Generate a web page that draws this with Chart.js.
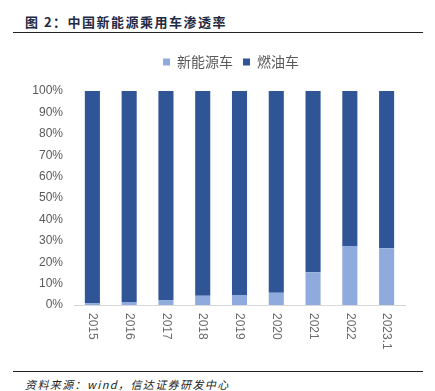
<!DOCTYPE html>
<html>
<head>
  <meta charset="UTF-8">
  <title>中国新能源乘用车渗透率</title>
  <script src="https://cdn.jsdelivr.net/npm/chart.js"></script>
  <style>
    body {
      margin: 0;
      width: 435px;
      height: 391px;
      position: relative;
      background: #fff;
      font-family: "Noto Sans CJK SC", sans-serif;
      overflow: hidden;
    }
    #title {
      position: absolute;
      left: 25px;
      top: 12px;
      font-size: 13px;
      font-weight: bold;
      letter-spacing: 1.5px;
      color: #1f2a44;
    }
    .rule {
      position: absolute;
      left: 13px;
      width: 410px;
      height: 1px;
      background: #222;
    }
    #chartBox {
      position: absolute;
      left: 20px;
      top: 40px;
      width: 415px;
      height: 330px;
    }
    #source {
      position: absolute;
      left: 25px;
      top: 376px;
      font-size: 11px;
      font-style: italic;
      color: #222;
      letter-spacing: 1.4px;
    }
  </style>
</head>
<body>
  <div id="title">图 2：中国新能源乘用车渗透率</div>
  <div class="rule" style="top:32px"></div>

  <div id="chartBox">
    <canvas id="penChart"></canvas>
  </div>

  <div class="rule" style="top:371px"></div>
  <div id="source">资料来源：wind，信达证券研发中心</div>

  <script>
    // Data (share of passenger car sales, %)
    const years = ["2015", "2016", "2017", "2018", "2019", "2020", "2021", "2022", "2023.1"];
    const nevShare = [0.9, 1.4, 2.3, 4.3, 4.7, 5.7, 15.3, 27.6, 26.5];
    const fuelShare = nevShare.map(v => +(100 - v).toFixed(1));
    const yTicks = [0, 10, 20, 30, 40, 50, 60, 70, 80, 90, 100];

    const tickColor = "#595959";

    // x labels are drawn rotated clockwise (read top to bottom)
    const xLabelPlugin = {
      id: "xLabels",
      afterDraw(chart) {
        const ctx = chart.ctx;
        const xs = chart.scales.x;
        ctx.save();
        ctx.fillStyle = "#6b6b6b";
        ctx.font = "12px 'Liberation Sans Narrow', 'Liberation Sans', sans-serif";
        ctx.textAlign = "left";
        ctx.textBaseline = "middle";
        years.forEach((label, i) => {
          const x = xs.getPixelForValue(i);
          ctx.save();
          ctx.translate(x, xs.top + 8);
          ctx.rotate(Math.PI / 2);
          ctx.fillText(label, 0, 0);
          ctx.restore();
        });
        ctx.restore();
      }
    };

    // extra room under the legend, and nudge it a bit to the right
    const legendGap = {
      id: "legendGap",
      beforeInit(chart) {
        const fit = chart.legend.fit;
        chart.legend.fit = function () {
          fit.bind(chart.legend)();
          this.height += 12;
        };
      },
      afterLayout(chart) {
        chart.legend.left += 15;
        chart.legend.right += 15;
      }
    };

    new Chart(document.getElementById("penChart").getContext("2d"), {
      type: "bar",
      data: {
        labels: years,
        datasets: [
          {
            label: "新能源车",
            data: nevShare,
            backgroundColor: "#8faadc",
            barPercentage: 0.41,
            categoryPercentage: 1
          },
          {
            label: "燃油车",
            data: fuelShare,
            backgroundColor: "#2f5597",
            barPercentage: 0.41,
            categoryPercentage: 1
          }
        ]
      },
      options: {
        responsive: true,
        maintainAspectRatio: false,
        animation: false,
        layout: { padding: { top: 5, right: 30, left: 7, bottom: 0 } },
        plugins: {
          legend: {
            position: "top",
            labels: {
              boxWidth: 7,
              boxHeight: 7,
              padding: 10,
              color: tickColor,
              font: { size: 14, family: "'Noto Sans CJK SC', sans-serif" }
            }
          },
          tooltip: { enabled: false }
        },
        scales: {
          x: {
            stacked: true,
            grid: { display: false, drawTicks: false },
            border: { color: "#d9d9d9", width: 1 },
            ticks: { display: false },
            afterFit(scale) { scale.height = 65; }
          },
          y: {
            stacked: true,
            min: 0,
            max: 100,
            afterBuildTicks(scale) {
              scale.ticks = yTicks.map(v => ({ value: v }));
            },
            grid: { display: false, drawTicks: false },
            border: { display: false },
            ticks: {
              color: tickColor,
              padding: 11,
              font: { size: 12, family: "'Liberation Sans Narrow', 'Liberation Sans', sans-serif" },
              callback: v => v + "%"
            },
            afterFit(scale) { scale.width = 47; }
          }
        }
      },
      plugins: [xLabelPlugin, legendGap]
    });
  </script>
</body>
</html>
